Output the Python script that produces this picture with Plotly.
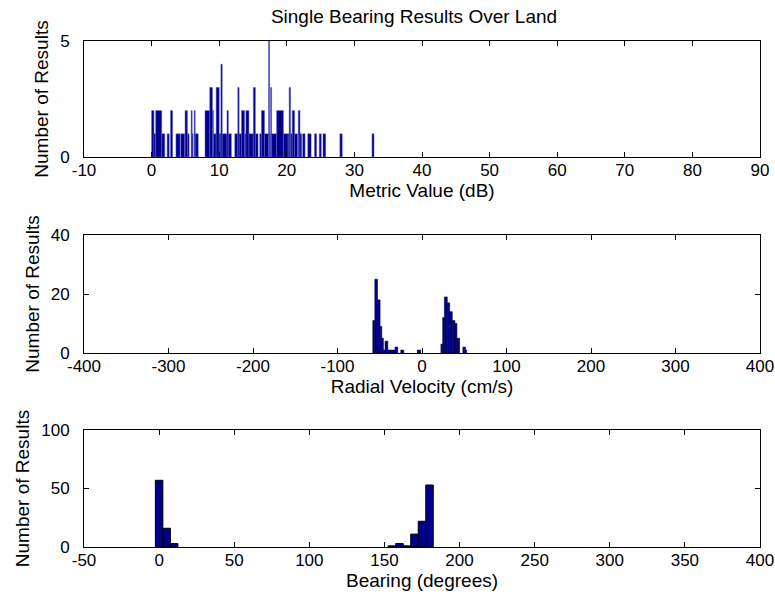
import plotly.graph_objects as go

# ---------------- data ----------------
# Panel 1: Metric Value (dB) histogram (runs of equal count)
metric_start = [0.0, 0.35, 0.6, 1.5, 2.3, 2.8, 3.6, 4.3, 4.95, 5.3, 5.85, 6.0, 6.3, 6.45,
                7.9, 8.6, 9.0, 9.15, 9.55, 10.0, 10.25, 10.45, 11.15, 11.35,
                12.3, 12.75, 12.95, 13.3, 13.75, 13.95, 14.4, 15.05, 15.35,
                16.0, 16.25, 16.7, 17.3, 17.45, 17.6, 17.75, 18.5, 19.5, 20.2, 20.35, 20.55,
                20.8, 21.15, 21.7, 21.95, 22.35, 23.1, 24.1, 24.8, 25.35, 27.85, 32.6]
metric_end = [0.35, 0.6, 1.5, 1.95, 2.6, 3.1, 4.2, 4.9, 5.3, 5.55, 6.0, 6.15, 6.45, 6.9,
              8.6, 9.0, 9.15, 9.55, 10.0, 10.25, 10.45, 11.15, 11.35, 11.8,
              12.75, 12.95, 13.3, 13.75, 13.95, 14.4, 15.05, 15.35, 15.75,
              16.25, 16.7, 17.3, 17.45, 17.6, 17.75, 18.5, 19.5, 20.2, 20.35, 20.55, 20.8,
              21.15, 21.6, 21.95, 22.2, 22.7, 23.6, 24.4, 25.1, 25.75, 28.2, 32.9]
metric_count = [2, 1, 2, 1, 1, 2, 1, 1, 2, 1, 2, 1, 2, 1,
                2, 3, 2, 1, 3, 1, 4, 1, 2, 1,
                1, 3, 1, 2, 1, 2, 1, 3, 1,
                1, 2, 1, 5, 1, 3, 1, 2, 1, 1, 3, 1,
                2, 1, 2, 1, 1, 1, 1, 1, 1, 1, 1]

# Panel 2: Radial Velocity (cm/s) histogram
vel_start = [-58.2, -55.8, -52.7, -49.6, -47.6, -45.7, -43.7, -40.5, -31.9, -25.1, -5.5,
             22.4, 24.5, 26.5, 29.9, 32.7, 35.8, 39.0, 41.3, 48.4, 51.5]
vel_end = [-55.8, -52.7, -49.6, -47.6, -45.7, -43.7, -40.5, -31.9, -28.7, -21.6, -1.6,
           24.5, 26.5, 29.9, 32.7, 35.8, 39.0, 41.3, 44.5, 51.5, 52.8]
vel_count = [11, 25, 18, 9, 5, 1, 4, 1, 2, 1, 1,
             3, 12, 19, 17, 14, 11, 10, 5, 2, 1]

# Panel 3: Bearing (degrees) histogram, 5-degree bins
bearing_center = [0, 5, 10, 155, 160, 165, 170, 175, 180]
bearing_count = [57, 16, 3, 1, 3, 1, 11, 22, 53]
bearing_width = 5

# axis ticks / ranges
x1_ticks = list(range(-10, 91, 10))
x2_ticks = list(range(-400, 401, 100))
x3_ticks = list(range(-50, 401, 50))
y1_ticks = [0, 5]
y2_ticks = [0, 20, 40]
y3_ticks = [0, 50, 100]

title_text = "Single Bearing Results Over Land"
xlabels = ["Metric Value (dB)", "Radial Velocity (cm/s)", "Bearing (degrees)"]
ylabel = "Number of Results"

# ---------------- figure ----------------
FONT = "Liberation Sans, Arial, Helvetica, sans-serif"
FS = 19
BAR = "rgb(0,0,140)"

fig = go.Figure()

fig.add_trace(go.Bar(
    x=[(a + b) / 2 for a, b in zip(metric_start, metric_end)],
    width=[b - a for a, b in zip(metric_start, metric_end)],
    y=metric_count, xaxis="x", yaxis="y",
    marker=dict(color=BAR, line=dict(color="rgb(90,90,200)", width=0.5)),
))
fig.add_trace(go.Bar(
    x=[(a + b) / 2 for a, b in zip(vel_start, vel_end)],
    width=[b - a for a, b in zip(vel_start, vel_end)],
    y=vel_count, xaxis="x2", yaxis="y2",
    marker=dict(color=BAR, line=dict(color="rgb(0,0,60)", width=0.6)),
))
fig.add_trace(go.Bar(
    x=bearing_center, width=[bearing_width] * len(bearing_center),
    y=bearing_count, xaxis="x3", yaxis="y3",
    marker=dict(color=BAR, line=dict(color="black", width=1)),
))

tf = dict(family=FONT, size=FS, color="black")
tkf = dict(family=FONT, size=17, color="black")
common_x = dict(showline=True, linecolor="black", linewidth=1, mirror="ticks",
                ticks="inside", ticklen=5, tickcolor="black", showgrid=False,
                zeroline=False, tickfont=tkf, title_font=tf, ticklabelstandoff=-2,
                automargin=False)
common_y = dict(showline=True, linecolor="black", linewidth=1, mirror="ticks",
                ticks="inside", ticklen=5, tickcolor="black", showgrid=False,
                zeroline=False, tickfont=tkf, title_font=tf, ticklabelstandoff=10,
                automargin=False)

d1 = [(547 - 157) / 506, 1.0]
d2 = [(547 - 353) / 506, (547 - 235) / 506]
d3 = [0.0, (547 - 430) / 506]


def labels(vals):
    return [str(v) for v in vals]


fig.update_layout(
    width=775, height=605,
    margin=dict(l=84, r=15, t=41, b=58, autoexpand=False),
    paper_bgcolor="white", plot_bgcolor="white",
    showlegend=False, barmode="overlay",
    font=tf,
    title=dict(text=title_text, xref="container", x=414 / 775, xanchor="center",
               yref="container", y=1 - 16 / 605, yanchor="middle", font=tf),
    xaxis=dict(domain=[0, 1], anchor="y", range=[-10, 90], tickvals=x1_ticks,
               ticktext=labels(x1_ticks),
               title=dict(text=xlabels[0], standoff=0), **common_x),
    yaxis=dict(domain=d1, anchor="x", range=[0, 5], tickvals=y1_ticks,
               ticktext=labels(y1_ticks),
               title=dict(text=ylabel, standoff=6), **common_y),
    xaxis2=dict(domain=[0, 1], anchor="y2", range=[-400, 400], tickvals=x2_ticks,
                ticktext=labels(x2_ticks),
                title=dict(text=xlabels[1], standoff=0), **common_x),
    yaxis2=dict(domain=d2, anchor="x2", range=[0, 40], tickvals=y2_ticks,
                ticktext=labels(y2_ticks),
                title=dict(text=ylabel, standoff=6), **common_y),
    xaxis3=dict(domain=[0, 1], anchor="y3", range=[-50, 400], tickvals=x3_ticks,
                ticktext=labels(x3_ticks),
                title=dict(text=xlabels[2], standoff=0), **common_x),
    yaxis3=dict(domain=d3, anchor="x3", range=[0, 100], tickvals=y3_ticks,
                ticktext=labels(y3_ticks),
                title=dict(text=ylabel, standoff=6), **common_y),
)

fig.write_html("out.html", config={"displayModeBar": False},
               post_script="document.body.style.margin='0';")
